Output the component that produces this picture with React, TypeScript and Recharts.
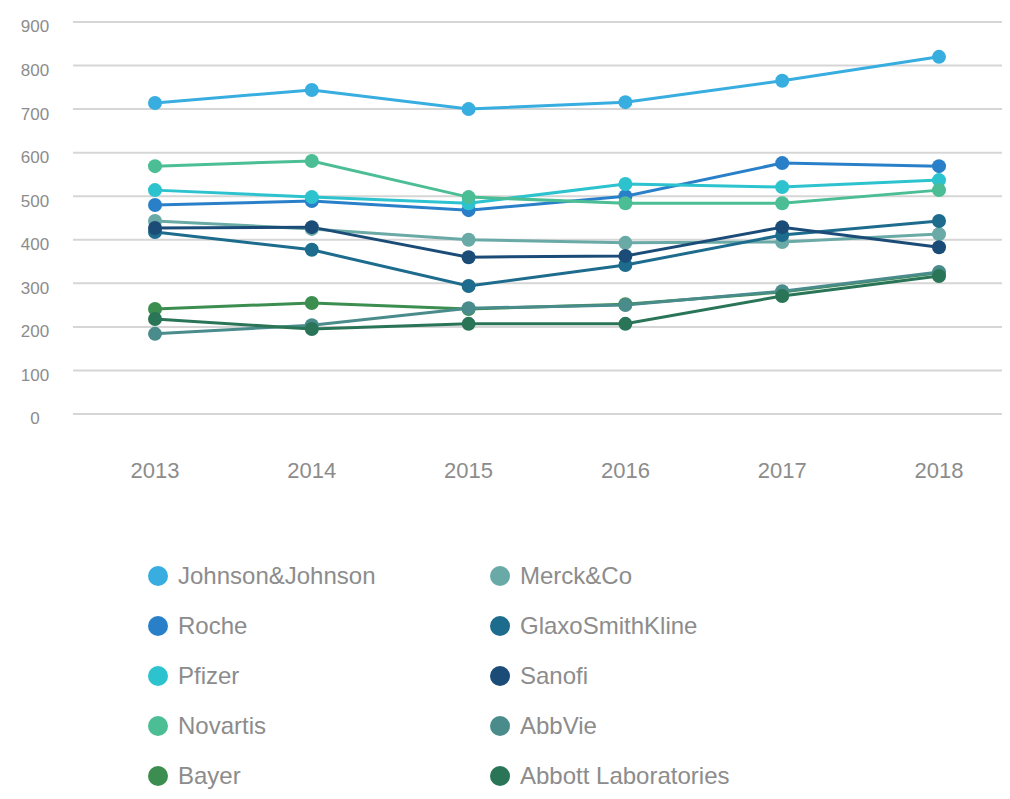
import React from "react";
import { LineChart, Line, XAxis, YAxis, CartesianGrid, Legend } from "recharts";

const years = ["2013", "2014", "2015", "2016", "2017", "2018"];
const yTicks = [0, 100, 200, 300, 400, 500, 600, 700, 800, 900];

const jnj = [714, 744, 700, 716, 765, 820];
const roche = [480, 489, 468, 500, 576, 569];
const pfizer = [514, 498, 484, 528, 521, 537];
const novartis = [569, 581, 498, 484, 484, 514];
const bayer = [241, 255, 241, 252, 280, 324];
const merck = [443, 425, 400, 393, 395, 413];
const gsk = [418, 377, 294, 342, 411, 443];
const sanofi = [427, 429, 360, 363, 429, 383];
const abbvie = [184, 204, 243, 250, 282, 326];
const abbott = [218, 195, 207, 207, 271, 317];

const seriesList = [
  { key: "Johnson&Johnson", values: jnj, color: "#38ade0" },
  { key: "Roche", values: roche, color: "#2a80c8" },
  { key: "Pfizer", values: pfizer, color: "#2cc3cf" },
  { key: "Novartis", values: novartis, color: "#4bbe95" },
  { key: "Bayer", values: bayer, color: "#3c8e50" },
  { key: "Merck&Co", values: merck, color: "#6aaaa6" },
  { key: "GlaxoSmithKline", values: gsk, color: "#1d6b8d" },
  { key: "Sanofi", values: sanofi, color: "#1b4c78" },
  { key: "AbbVie", values: abbvie, color: "#4a8c8c" },
  { key: "Abbott Laboratories", values: abbott, color: "#2a7558" },
];

const data = years.map((y, i) => {
  const row: any = { year: y };
  seriesList.forEach((s) => {
    row[s.key] = s.values[i];
  });
  return row;
});

const FONT = "Liberation Sans, Arial, sans-serif";

const YTick = (props: any) => {
  const { x, y, payload } = props;
  return (
    <text x={x - 30} y={y + 6} textAnchor="middle" dominantBaseline="middle" fill="#8c8c8c" fontSize={17} fontFamily={FONT}>
      {payload.value}
    </text>
  );
};

const XTick = (props: any) => {
  const { x, y, payload } = props;
  return (
    <text x={x} y={y + 50} textAnchor="middle" dominantBaseline="middle" fill="#8c8c8c" fontSize={22} fontFamily={FONT}>
      {payload.value}
    </text>
  );
};

const LegendContent = () => {
  const left = seriesList.slice(0, 5);
  const right = seriesList.slice(5);
  const col = (items: typeof seriesList, ml: number, w: number) => (
    <div style={{ marginLeft: ml, width: w }}>
      {items.map((s) => (
        <div key={s.key} style={{ height: 50, display: "flex", alignItems: "center" }}>
          <span style={{ width: 20, height: 20, borderRadius: 10, background: s.color, display: "inline-block", marginRight: 10, flexShrink: 0 }} />
          <span style={{ fontSize: 24, color: "#8c8c8c", fontFamily: FONT, whiteSpace: "nowrap" }}>{s.key}</span>
        </div>
      ))}
    </div>
  );
  return (
    <div style={{ display: "flex", height: 260, paddingTop: 12, boxSizing: "border-box" }}>
      {col(left, 120, 342)}
      {col(right, 0, 400)}
    </div>
  );
};

export default function App() {
  return (
    <div style={{ width: 1002, height: 791, background: "#fff" }}>
      <LineChart width={1002} height={791} data={data} margin={{ top: 14, right: 5, left: 20, bottom: 0 }}>
        <CartesianGrid horizontal vertical={false} stroke="#d6d6d6" strokeWidth={2} />
        <XAxis dataKey="year" axisLine={false} tickLine={false} height={125} tick={<XTick />} interval={0} padding={{ left: 82, right: 66 }} />
        <YAxis domain={[0, 900]} ticks={yTicks} axisLine={false} tickLine={false} width={45} tick={<YTick />} interval={0} />
        <Legend verticalAlign="bottom" content={<LegendContent />} wrapperStyle={{ height: 260 }} />
        {seriesList.map((s) => (
          <Line
            key={s.key}
            dataKey={s.key}
            stroke={s.color}
            strokeWidth={3}
            dot={{ r: 7, fill: s.color, stroke: s.color, strokeWidth: 0 }}
            activeDot={false}
            isAnimationActive={false}
          />
        ))}
      </LineChart>
    </div>
  );
}
